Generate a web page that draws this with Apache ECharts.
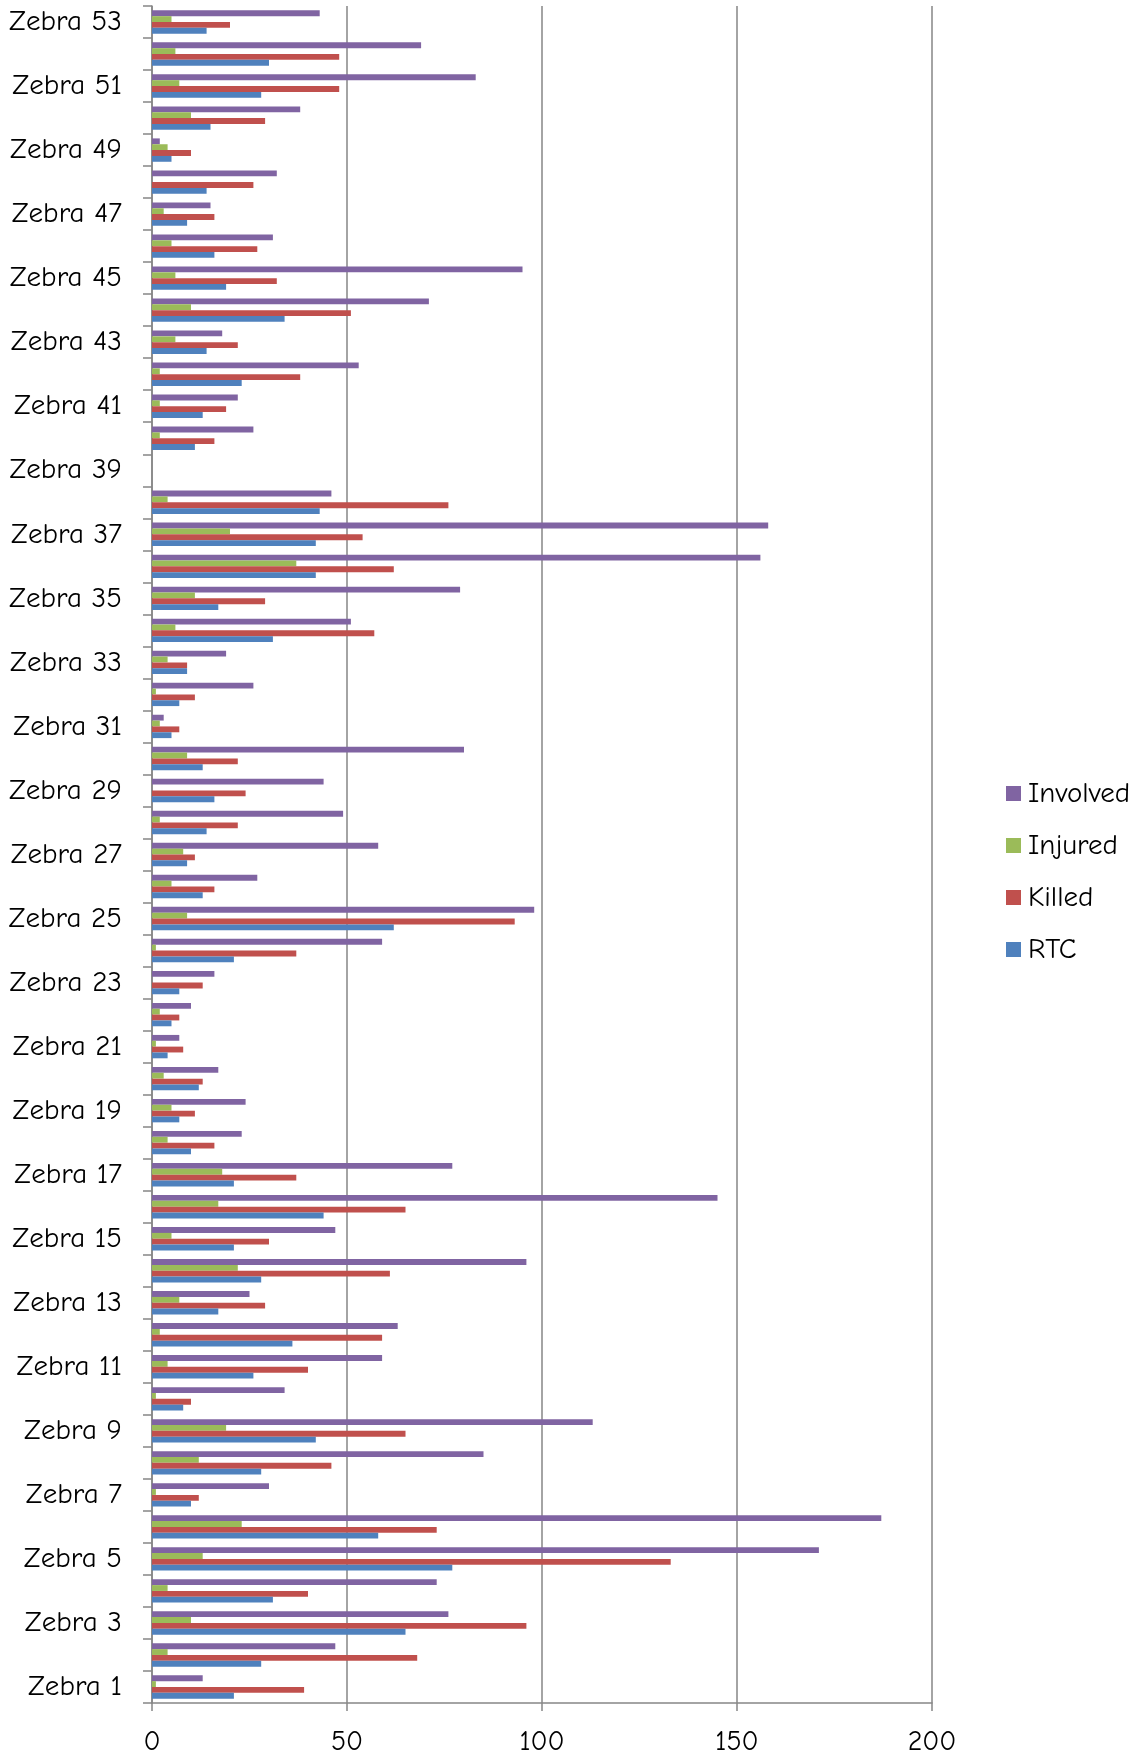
<!DOCTYPE html>
<html>
<head>
<meta charset="utf-8">
<script src="https://cdn.jsdelivr.net/npm/echarts@6/dist/echarts.min.js"></script>
<style>
html,body{margin:0;padding:0;background:#fff;}
#chart{width:1142px;height:1757px;}
</style>
</head>
<body>
<div id="chart"></div>
<script>
const categories = [];
for (let i = 1; i <= 53; i++) categories.push('Zebra ' + i);

// values listed from Zebra 1 to Zebra 53
const rtc = [21,28,65,31,77,58,10,28,42,8,26,36,17,28,21,44,21,10,7,12,4,5,7,21,62,13,9,14,16,13,5,7,9,31,17,42,42,43,0,11,13,23,14,34,19,16,9,14,5,15,28,30,14];
const killed = [39,68,96,40,133,73,12,46,65,10,40,59,29,61,30,65,37,16,11,13,8,7,13,37,93,16,11,22,24,22,7,11,9,57,29,62,54,76,0,16,19,38,22,51,32,27,16,26,10,29,48,48,20];
const injured = [1,4,10,4,13,23,1,12,19,1,4,2,7,22,5,17,18,4,5,3,1,2,0,1,9,5,8,2,0,9,2,1,4,6,11,37,20,4,0,2,2,2,6,10,6,5,3,0,4,10,7,6,5];
const involved = [13,47,76,73,171,187,30,85,113,34,59,63,25,96,47,145,77,23,24,17,7,10,16,59,98,27,58,49,44,80,3,26,19,51,79,156,158,46,0,26,22,53,18,71,95,31,15,32,2,38,83,69,43];

const xTicks = [0, 50, 100, 150, 200];
const legendOrder = ['Involved', 'Injured', 'Killed', 'RTC'];

const FONT = '"Comic Sans MS", "Comic Neue", "Noto Sans", sans-serif';
const chart = echarts.init(document.getElementById('chart'), null, {renderer: 'canvas'});

function mk(name, data, color) {
  return {
    name: name, type: 'bar', data: data,
    barGap: '0%', barCategoryGap: '27%',
    itemStyle: {color: color},
    animation: false
  };
}

chart.setOption({
  animation: false,
  backgroundColor: '#ffffff',
  grid: {left: 152, right: 210, top: 6, bottom: 54, containLabel: false},
  legend: {
    orient: 'vertical', left: 1001, top: 774,
    data: legendOrder,
    itemWidth: 15, itemHeight: 15, itemGap: 23,
    icon: 'rect',
    textStyle: {fontFamily: FONT, fontSize: 29, color: '#000', lineHeight: 24, padding: [0,0,0,2]}
  },
  xAxis: {
    type: 'value', min: xTicks[0], max: xTicks[xTicks.length - 1], interval: 50,
    axisLine: {show: true, lineStyle: {color: '#868686', width: 1.5}},
    axisTick: {show: true, length: 8, lineStyle: {color: '#868686', width: 1.5}},
    splitLine: {show: true, lineStyle: {color: '#868686', width: 1.5}},
    axisLabel: {fontFamily: FONT, fontSize: 28, color: '#000', margin: 25}
  },
  yAxis: {
    type: 'category', data: categories,
    axisLine: {show: true, lineStyle: {color: '#868686', width: 1.5}},
    axisTick: {show: true, interval: 0, length: 9, lineStyle: {color: '#868686', width: 1.5}},
    axisLabel: {interval: 1, fontFamily: FONT, fontSize: 29, color: '#000', margin: 30}
  },
  series: [
    mk('Involved', involved, '#8064A2'),
    mk('Injured', injured, '#9BBB59'),
    mk('Killed', killed, '#C0504D'),
    mk('RTC', rtc, '#4F81BD')
  ]
});
</script>
</body>
</html>
